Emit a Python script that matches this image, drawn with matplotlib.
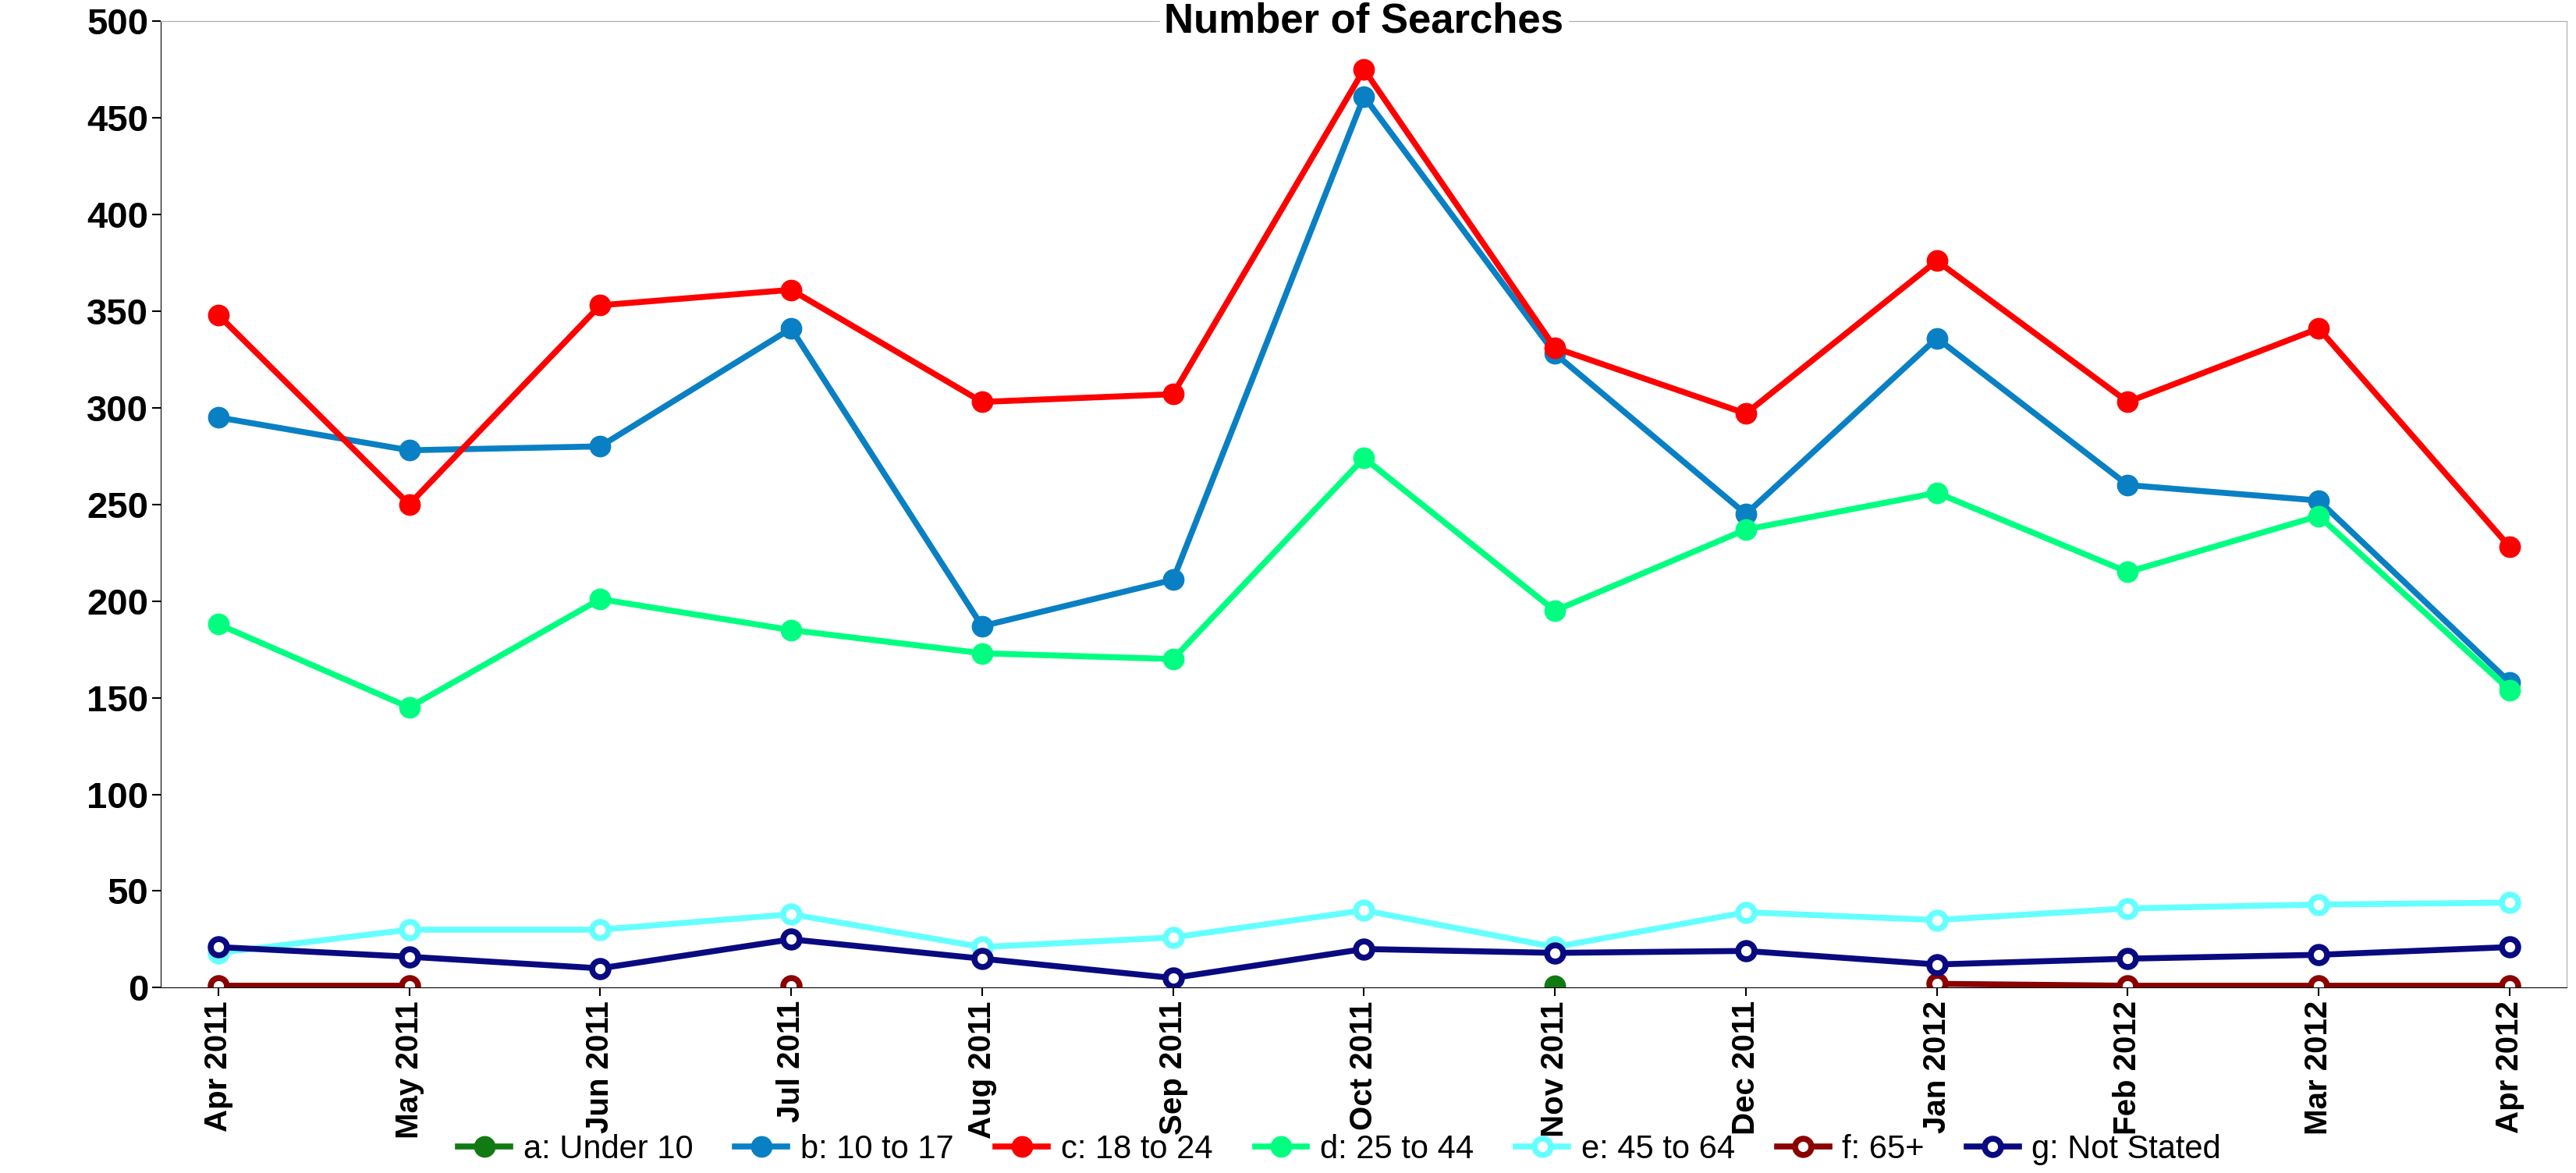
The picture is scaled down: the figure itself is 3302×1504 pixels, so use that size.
import numpy as np
import matplotlib.pyplot as plt

months = ["Apr 2011", "May 2011", "Jun 2011", "Jul 2011", "Aug 2011", "Sep 2011", "Oct 2011",
          "Nov 2011", "Dec 2011", "Jan 2012", "Feb 2012", "Mar 2012", "Apr 2012"]
nan = np.nan
under_10 = [nan, nan, nan, nan, nan, nan, nan, 1, nan, nan, nan, nan, nan]
age_10_17 = [295, 278, 280, 341, 187, 211, 461, 328, 245, 336, 260, 252, 158]
age_18_24 = [348, 250, 353, 361, 303, 307, 475, 331, 297, 376, 303, 341, 228]
age_25_44 = [188, 145, 201, 185, 173, 170, 274, 195, 237, 256, 215, 244, 154]
age_45_64 = [18, 30, 30, 38, 21, 26, 40, 21, 39, 35, 41, 43, 44]
age_65 = [1, 1, nan, 1, nan, nan, nan, nan, nan, 2, 1, 1, 1]
not_stated = [21, 16, 10, 25, 15, 5, 20, 18, 19, 12, 15, 17, 21]

series = [
    ("a: Under 10", under_10, "#127a12", False),
    ("b: 10 to 17", age_10_17, "#0a80c4", False),
    ("c: 18 to 24", age_18_24, "#ff0000", False),
    ("d: 25 to 44", age_25_44, "#00ff80", False),
    ("e: 45 to 64", age_45_64, "#66ffff", True),
    ("f: 65+", age_65, "#8b0000", True),
    ("g: Not Stated", not_stated, "#0a0a80", True),
]

plt.rcParams['font.family'] = ['Liberation Sans', 'DejaVu Sans']
fig = plt.figure(figsize=(33.02, 15.04), dpi=100)
ax = fig.add_axes([0.0625, 0.158, 0.934, 0.824])
x = np.arange(len(months))
for label, vals, color, hollow in series:
    if hollow:
        ax.plot(x, vals, "-o", color=color, lw=5.5, ms=15, mfc="white", mec=color, mew=5.5, label=label)
    else:
        ax.plot(x, vals, "-o", color=color, lw=5.5, ms=19, label=label)

ax.set_xlim(-0.3, 12.3)
ax.set_ylim(0, 500)
ax.set_yticks(range(0, 501, 50))
ax.set_xticks(x)
ax.set_xticklabels(months, rotation=90, fontsize=29, fontweight="bold")
for t in ax.get_yticklabels():
    t.set_fontsize(34)
    t.set_fontweight("bold")
ax.tick_params(length=8, width=1.5)
ax.tick_params(axis="x", pad=4)
for s in ["top", "right"]:
    ax.spines[s].set_color("#aaaaaa")
ax.text(0.5, 1.0, "Number of Searches", transform=ax.transAxes, ha="center", va="center",
        fontsize=38, fontweight="bold", backgroundcolor="white")
fig.legend(*ax.get_legend_handles_labels(), loc="lower center", bbox_to_anchor=(0.52, -0.018), ncol=7,
           frameon=False, fontsize=30, handlelength=1.6, handletextpad=0.4, columnspacing=1.3)
fig.savefig("out.png")
